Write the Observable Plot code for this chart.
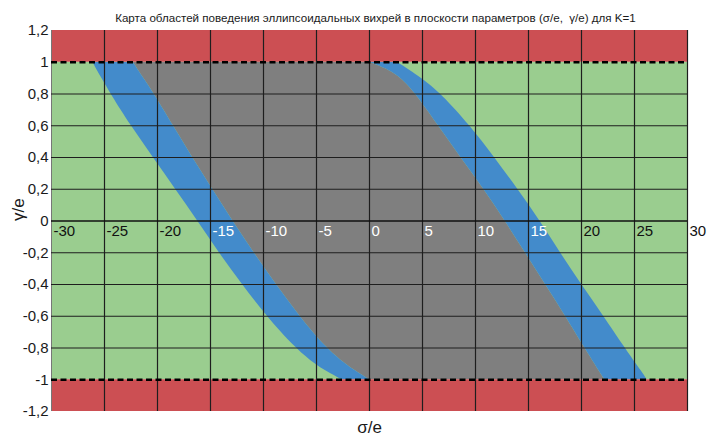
<!DOCTYPE html>
<html>
<head>
<meta charset="utf-8">
<script src="https://cdn.jsdelivr.net/npm/d3@7"></script>
<script src="https://cdn.jsdelivr.net/npm/@observablehq/plot@0.6"></script>
<style>
  html, body { margin: 0; padding: 0; background: #fff; }
  #chart svg { display: block; font-family: "Liberation Sans", Arial, sans-serif; }
</style>
</head>
<body>
<div id="chart"></div>
<script>
// Parameter-plane map of ellipsoidal vortex behaviour, K = 1
const titleText = "Карта областей поведения эллипсоидальных вихрей в плоскости параметров (σ/e,  γ/e) для K=1";

// Axis ticks
const xTicks = [-30, -25, -20, -15, -10, -5, 0, 5, 10, 15, 20, 25, 30];
const yTicks = [1.2, 1, 0.8, 0.6, 0.4, 0.2, 0, -0.2, -0.4, -0.6, -0.8, -1, -1.2];
const yTickLabels = ["1,2", "1", "0,8", "0,6", "0,4", "0,2", "0", "-0,2", "-0,4", "-0,6", "-0,8", "-1", "-1,2"];

// Region boundaries σ/e sampled at these γ/e levels
const gammaLevels = [1, 0.95, 0.9, 0.8, 0.6, 0.4, 0.2, 0, -0.2, -0.4, -0.6, -0.8, -0.9, -0.95, -1];
const leftOuter  = [-26.1, -25.7, -25.25, -24.4, -22.5, -20.4, -18.3, -16.2, -14.2, -12.0, -9.7, -7.0, -5.2, -4.0, -2.6];
const leftInner  = [-22.3, -21.8, -21.3, -20.3, -18.5, -16.7, -14.8, -12.9, -10.9, -8.8, -6.6, -4.1, -2.3, -1.2, 0];
const rightInner = [0, 1.9, 3.0, 4.4, 6.5, 8.6, 10.8, 12.8, 14.7, 16.6, 18.5, 20.3, 21.25, 21.7, 22.2];
const rightOuter = [2.6, 3.8, 4.9, 6.8, 9.5, 11.8, 14.0, 16.1, 18.0, 20.0, 22.1, 24.1, 25.15, 25.7, 26.2];

// Bounds of the plane
const sigmaRange = [-30, 30];
const gammaRange = [-1.2, 1.2];
const gammaLimit = 1;

const colors = {
  red: "#CC4F53",
  green: "#9ACD8F",
  gray: "#7F7F7F",
  blue: "#438BCB"
};

// Rows sorted by increasing γ for the curved areas
const rows = gammaLevels.map((g, i) => ({
  g, lo: leftOuter[i], li: leftInner[i], ri: rightInner[i], ro: rightOuter[i]
})).sort((a, b) => a.g - b.g);

const zeroRow = rows.find(r => r.g === 0);
const labelFill = d => (d >= zeroRow.lo && d < zeroRow.ro) ? "#fff" : "#111";
const labelOf = new Map(yTicks.map((t, i) => [t, yTickLabels[i]]));
const gridY = yTicks.filter(t => Math.abs(t) < gammaLimit);

const chart = Plot.plot({
  width: 708,
  height: 439,
  marginLeft: 51,
  marginRight: 21,
  marginTop: 30,
  marginBottom: 28,
  x: { domain: sigmaRange, axis: null },
  y: { domain: gammaRange, axis: null },
  style: { fontFamily: "'Liberation Sans', Arial, sans-serif", color: "#1a1a1a", background: "#fff" },
  marks: [
    // stable (green) background between the limits
    Plot.rect([{}], { x1: sigmaRange[0], x2: sigmaRange[1], y1: -gammaLimit, y2: gammaLimit, fill: colors.green }),
    // gray region between inner boundaries
    Plot.areaX(rows, { y: "g", x1: "li", x2: "ri", fill: colors.gray, curve: "basis" }),
    // blue transition bands
    Plot.areaX(rows, { y: "g", x1: "lo", x2: "li", fill: colors.blue, curve: "basis" }),
    Plot.areaX(rows, { y: "g", x1: "ri", x2: "ro", fill: colors.blue, curve: "basis" }),
    // red bands beyond |γ/e| = 1
    Plot.rect([gammaLimit, -gammaLimit], {
      x1: sigmaRange[0], x2: sigmaRange[1],
      y1: d => d, y2: d => d > 0 ? gammaRange[1] : gammaRange[0],
      fill: colors.red
    }),
    // grid
    Plot.ruleX([sigmaRange[0]], { stroke: "#777", strokeWidth: 1 }),
    Plot.ruleX(xTicks.filter(d => d > sigmaRange[0]), { stroke: "#1e1e1e", strokeWidth: 1.2 }),
    Plot.ruleY(gridY.filter(d => d !== 0), { stroke: "#1e1e1e", strokeWidth: 1.2 }),
    Plot.ruleY([0], { stroke: "#111", strokeWidth: 1.6 }),
    // dashed limits
    Plot.ruleY([gammaLimit, -gammaLimit], { stroke: "#000", strokeWidth: 2.6, strokeDasharray: "6,3.5" }),
    // x tick labels along γ/e = 0
    Plot.text(xTicks, {
      x: d => d, y: 0, text: d => String(d),
      textAnchor: "start", dx: 2, dy: 10, fontSize: 15,
      fill: labelFill
    }),
    // y tick labels
    Plot.text(yTicks, {
      x: sigmaRange[0], y: d => d, text: d => labelOf.get(d),
      textAnchor: "end", dx: -3, fontSize: 15, fill: "#1a1a1a"
    }),
    // titles
    Plot.text([titleText], { frameAnchor: "top", dx: 6, dy: -17, fontSize: 11.6, fill: "#1a1a1a" }),
    Plot.text(["σ/e"], { frameAnchor: "bottom", dy: 21, fontSize: 17, fill: "#1a1a1a" }),
    Plot.text(["γ/e"], { frameAnchor: "left", dx: -33, rotate: -90, fontSize: 17, fill: "#1a1a1a" })
  ]
});

document.getElementById("chart").appendChild(chart);
</script>
</body>
</html>
